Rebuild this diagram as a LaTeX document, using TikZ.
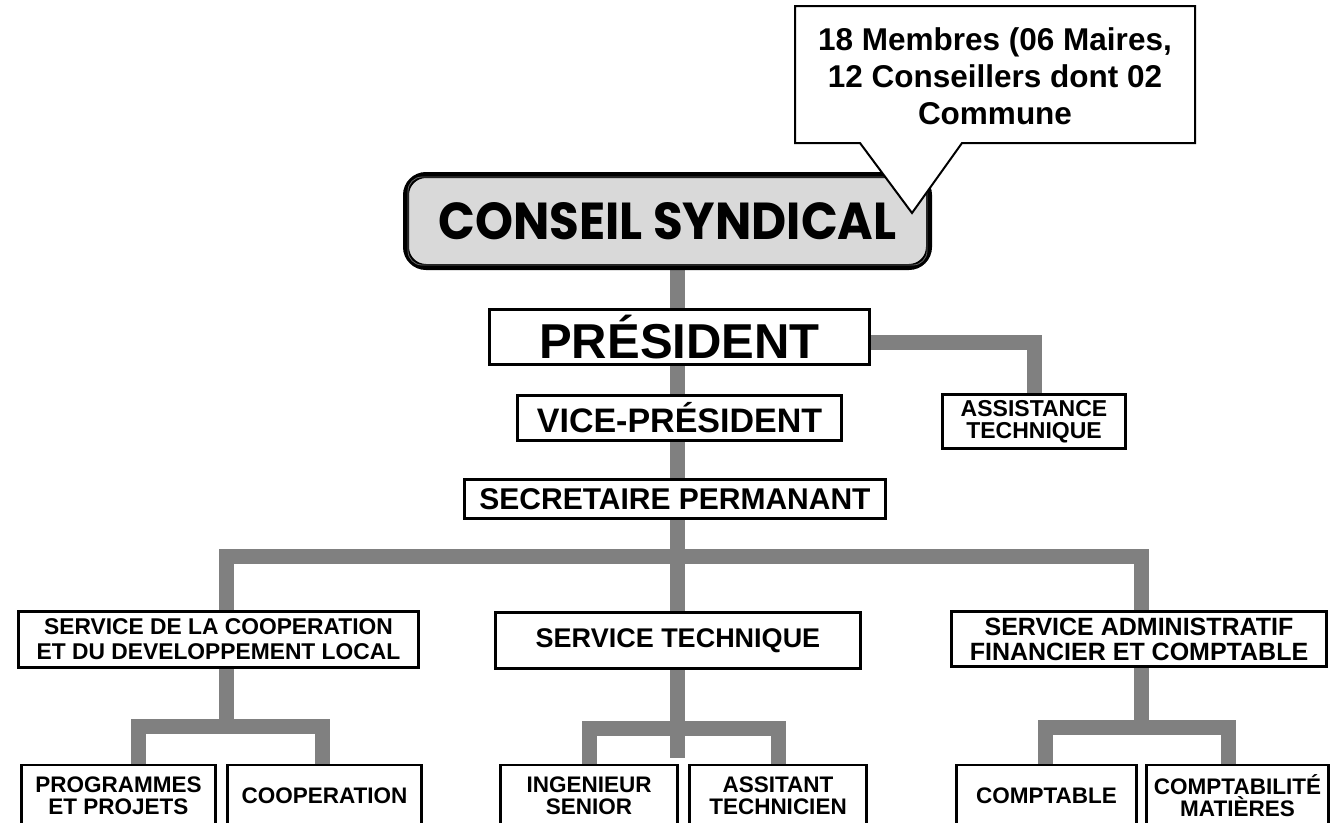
\documentclass[tikz,border=0pt]{standalone}
\usepackage{fontspec}
\setmainfont{Liberation Sans}
\newfontfamily\conseilfont{Poppins}
\usetikzlibrary{backgrounds}

\tikzset{
  box/.style={draw=black, line width=2.5pt, fill=white, inner sep=0pt, align=center, font=\bfseries},
  link/.style={draw=gray, line width=15pt, line join=miter},
}

\begin{document}
\begin{tikzpicture}[x=1pt,y=-1pt]
\useasboundingbox (0,0) rectangle (1330,822);
\clip (0,0) rectangle (1330,822);
%Conseil
\node[box, rounded corners=20pt, line width=6pt, fill=black!15, minimum width=523pt, minimum height=92pt] (conseil) at (667.5,221) {\resizebox{458pt}{37pt}{\conseilfont\bfseries CONSEIL SYNDICAL}};
\draw[rounded corners=14pt, line width=0.8pt, black!60] ([shift={(5pt,5pt)}]conseil.south west) rectangle ([shift={(-5pt,-5pt)}]conseil.north east);
%Bulle
\draw[line width=2pt, fill=white, line join=miter] (795,6) -- (1195,6) -- (1195,143) -- (962,143) -- (912,213) -- (860,143) -- (795,143) -- cycle;
\node[align=center, inner sep=0pt, font=\fontsize{31.5}{37}\selectfont\bfseries] (note) at (995,76) {18 Membres (06 Maires,\\12 Conseillers dont 02\\Commune};
%Direction
\node[box, minimum width=380pt, minimum height=55pt, font=\fontsize{49}{52}\selectfont\bfseries] (pres) at (679.5,337) {PRÉSIDENT};
\node[box, minimum width=324pt, minimum height=45pt, font=\fontsize{34}{36}\selectfont\bfseries] (vice) at (679.5,418) {VICE-PRÉSIDENT};
\node[box, minimum width=421pt, minimum height=39pt, font=\fontsize{30}{32}\selectfont\bfseries] (sec) at (675,499) {SECRETAIRE PERMANANT};
\node[box, minimum width=183pt, minimum height=54pt, font=\fontsize{23}{22}\selectfont\bfseries] (assist) at (1034,421.5) {ASSISTANCE\\TECHNIQUE};
%Services
\node[box, minimum width=400pt, minimum height=56pt, font=\fontsize{22.8}{25}\selectfont\bfseries] (coop) at (218.5,639.5) {SERVICE DE LA COOPERATION\\ET DU DEVELOPPEMENT LOCAL};
\node[box, minimum width=365pt, minimum height=56pt, font=\fontsize{27}{28}\selectfont\bfseries] (tech) at (678,640.5) {SERVICE TECHNIQUE};
\node[box, minimum width=375pt, minimum height=55pt, font=\fontsize{25}{25}\selectfont\bfseries] (admin) at (1139,639) {SERVICE ADMINISTRATIF\\FINANCIER ET COMPTABLE};
%Agents
\node[box, minimum width=194pt, minimum height=62pt, font=\fontsize{22.5}{22}\selectfont\bfseries] (prog) at (118.5,796) {PROGRAMMES\\ET PROJETS};
\node[box, minimum width=194pt, minimum height=62pt, font=\fontsize{22.5}{22}\selectfont\bfseries] (coopn) at (324.5,796) {COOPERATION};
\node[box, minimum width=177pt, minimum height=62pt, font=\fontsize{22.5}{22}\selectfont\bfseries] (ing) at (589,796) {INGENIEUR\\SENIOR};
\node[box, minimum width=177pt, minimum height=62pt, font=\fontsize{22.5}{22}\selectfont\bfseries] (asst) at (778,796) {ASSITANT\\TECHNICIEN};
\node[box, minimum width=180pt, minimum height=62pt, font=\fontsize{22.5}{22}\selectfont\bfseries] (compt) at (1046.5,796) {COMPTABLE};
\node[box, minimum width=182pt, minimum height=62pt, font=\fontsize{22.5}{22}\selectfont\bfseries] (cmat) at (1237.5,796) {COMPTABILITÉ\\MATIÈRES};
%Liens
\begin{scope}[on background layer]
\coordinate (bus) at (677,556);
\coordinate (cj) at (226,726);
\coordinate (tj) at (677,728);
\coordinate (aj) at (1141,727);
\draw[link] (bus |- conseil.south) -- (bus |- pres.north);
\draw[link] (bus |- pres.south) -- (bus |- tech.north);
\draw[link] ([yshift=-5pt]pres.east) -| (assist.north);
\draw[link] ([xshift=8pt]coop.north) |- (bus) -| ([xshift=2pt]admin.north);
\draw[link] (cj |- coop.south) -- (cj);
\draw[link] ([xshift=20pt]prog.north) |- (cj) -| ([xshift=-2pt]coopn.north);
\draw[link] (tj |- tech.south) -- ++(0,88);
\draw[link] (ing.north) |- (tj) -| (asst.north);
\draw[link] (aj |- admin.south) -- (aj);
\draw[link] ([xshift=-1pt]compt.north) |- (aj) -| ([xshift=-9pt]cmat.north);
\end{scope}
\end{tikzpicture}
\end{document}
